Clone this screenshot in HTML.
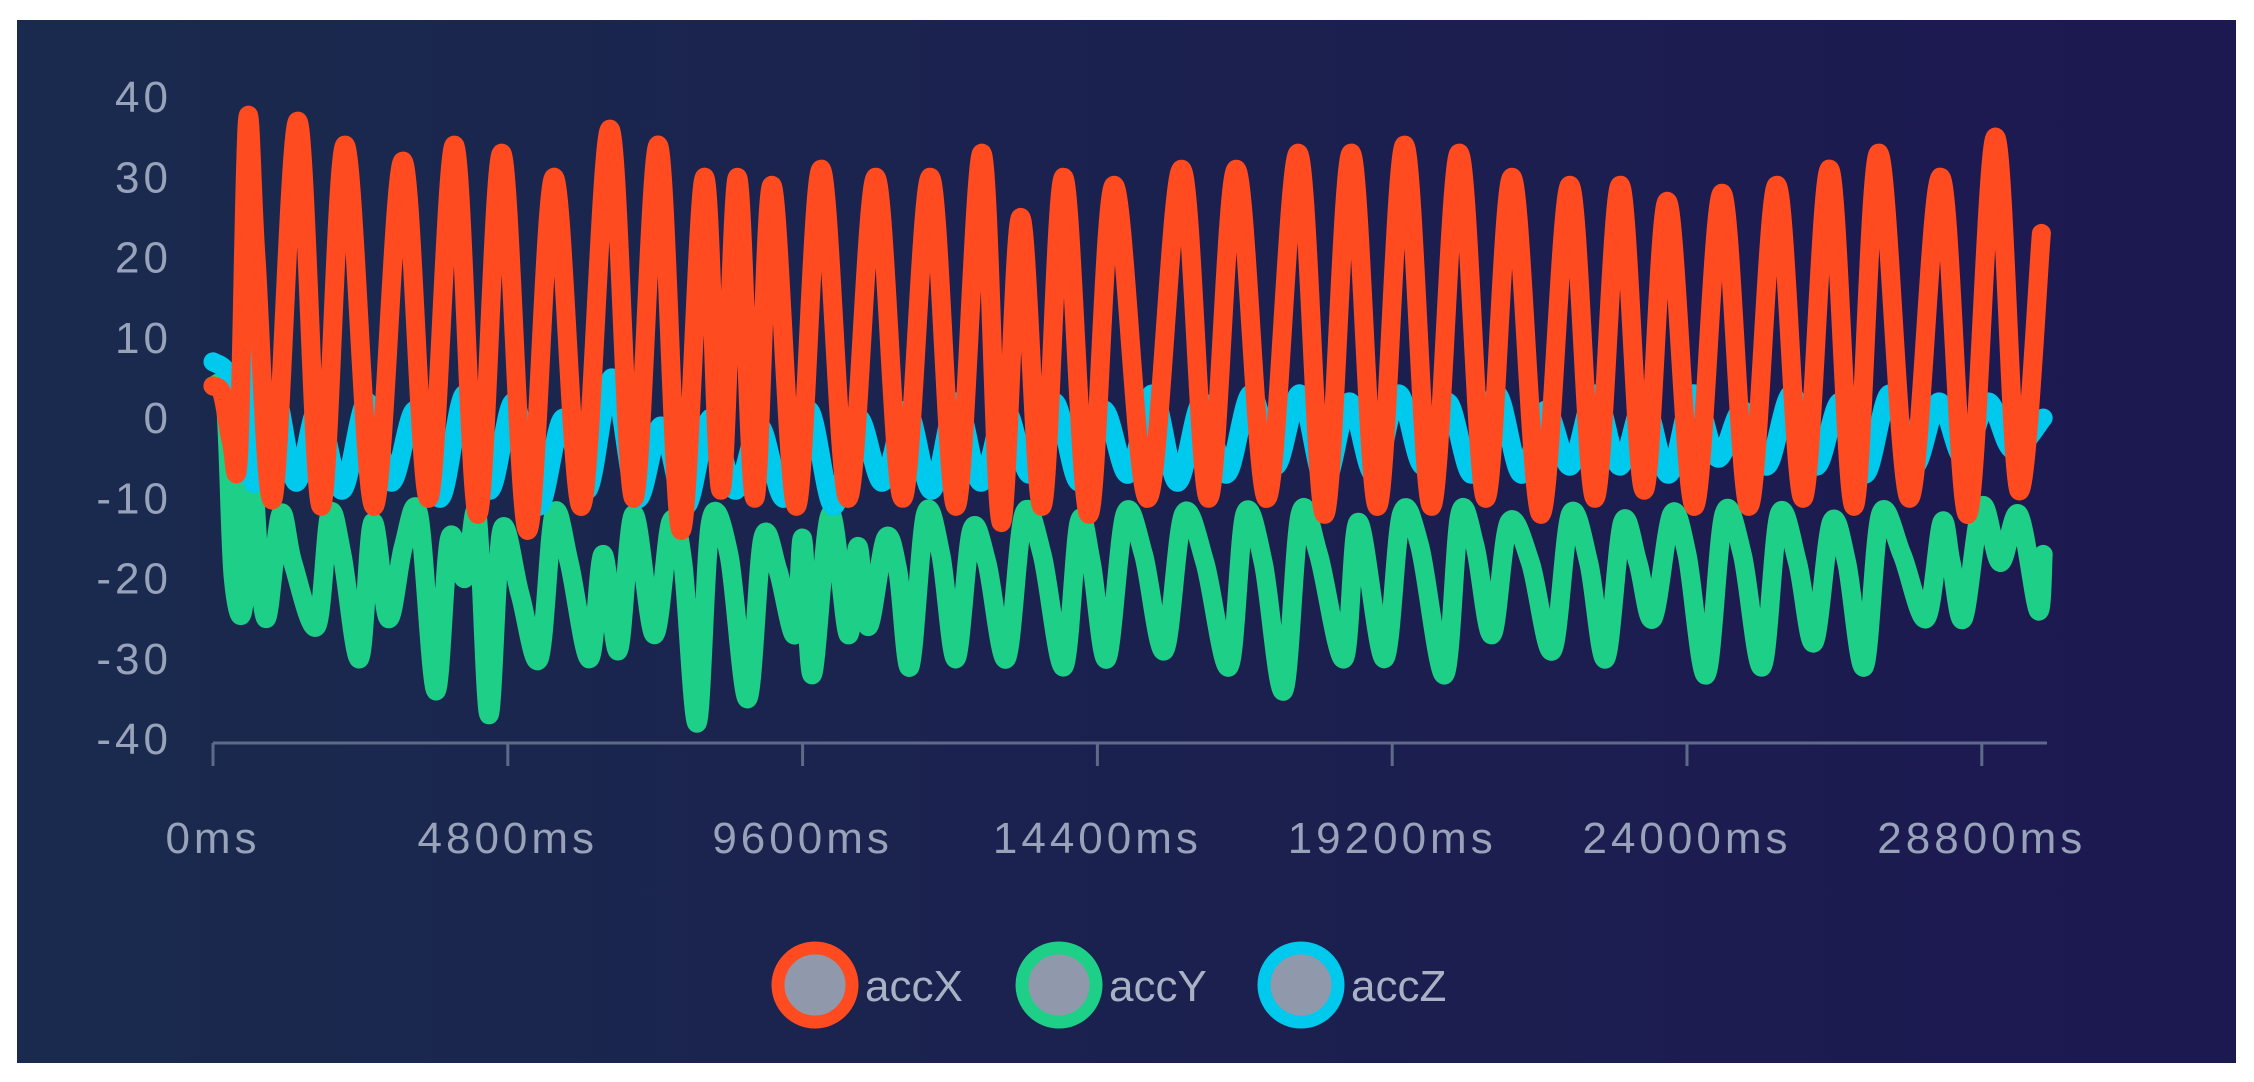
<!DOCTYPE html>
<html><head><meta charset="utf-8"><style>
html,body{margin:0;padding:0;background:#fff;}
svg{display:block;}
text{font-family:"Liberation Sans",sans-serif;}
</style></head><body>
<svg id="chart" width="2254" height="1082" viewBox="0 0 2254 1082" xmlns="http://www.w3.org/2000/svg">
<defs><linearGradient id="bg" x1="0" y1="0" x2="1" y2="0"><stop offset="0" stop-color="#1a2a4e"/><stop offset="1" stop-color="#1c1850"/></linearGradient></defs>
<rect x="17" y="20" width="2219" height="1043" fill="url(#bg)"/>
<g id="yaxis"></g>
<g id="xaxis"></g>
<g id="series"></g>
<g id="legend"></g>
</svg>
<script>
const yTicks = [40,30,20,10,0,-10,-20,-30,-40];
const xTicks = [0,4800,9600,14400,19200,24000,28800];
const xTickLabels = ["0ms","4800ms","9600ms","14400ms","19200ms","24000ms","28800ms"];
const seriesNames = ["accX","accY","accZ"];
const accX = [[0,4],[150,3],[300,-3],[420,-4],[560,37],[700,20],[980,-10],[1380,37],[1760,-11],[2150,34],[2620,-11],[3090,32],[3510,-10],[3930,34],[4310,-12],[4700,33],[5120,-14],[5550,30],[6000,-11],[6460,36],[6850,-10],[7250,34],[7620,-14],[8000,30],[8270,-9],[8540,30],[8820,-10],[9100,29],[9500,-11],[9900,31],[10340,-10],[10790,30],[11230,-10],[11680,30],[12100,-11],[12520,33],[12830,-13],[13150,25],[13500,-11],[13850,30],[14260,-12],[14670,29],[15220,-10],[15770,31],[16210,-10],[16660,31],[17160,-10],[17670,33],[18100,-12],[18530,33],[18960,-11],[19400,34],[19840,-11],[20290,33],[20720,-10],[21150,30],[21620,-12],[22090,29],[22500,-10],[22910,29],[23300,-9],[23680,27],[24120,-11],[24570,28],[25010,-11],[25460,29],[25890,-10],[26320,31],[26720,-11],[27120,33],[27620,-10],[28130,30],[28570,-12],[29020,35],[29400,-9],[29770,23]];
const accY = [[0,4],[200,2],[330,-20],[515,-22],[600,10],[700,-12],[866,-25],[1100,-12],[1300,-18],[1685,-26],[1900,-12],[2100,-17],[2387,-30],[2600,-13],[2855,-25],[3100,-16],[3350,-12],[3627,-34],[3850,-15],[4100,-20],[4300,-12],[4493,-37],[4700,-14],[5000,-22],[5312,-30],[5550,-12],[5800,-18],[6131,-30],[6350,-17],[6599,-29],[6850,-12],[7184,-27],[7450,-13],[7650,-18],[7886,-38],[8100,-13],[8400,-17],[8705,-35],[8950,-15],[9200,-19],[9477,-27],[9600,-15],[9758,-32],[10050,-12],[10343,-27],[10500,-16],[10670,-26],[10950,-15],[11150,-19],[11349,-31],[11600,-12],[11850,-17],[12098,-30],[12350,-14],[12600,-18],[12917,-30],[13200,-12],[13500,-17],[13853,-31],[14100,-13],[14300,-18],[14555,-30],[14850,-12],[15150,-17],[15491,-29],[15800,-12],[16150,-18],[16544,-31],[16800,-12],[17100,-18],[17433,-34],[17700,-12],[18000,-17],[18416,-30],[18650,-13],[19071,-30],[19350,-12],[19650,-16],[20054,-32],[20300,-12],[20550,-16],[20826,-27],[21100,-13],[21450,-18],[21809,-29],[22100,-12],[22400,-18],[22675,-30],[22950,-13],[23200,-18],[23447,-25],[23750,-12],[24000,-17],[24313,-32],[24600,-12],[24900,-17],[25225,-31],[25500,-12],[25800,-18],[26068,-28],[26350,-13],[26600,-18],[26887,-31],[27150,-12],[27500,-17],[27893,-25],[28150,-13],[28300,-18],[28501,-25],[28800,-11],[29100,-18],[29400,-12],[29718,-24],[29800,-17]];
const accZ = [[0,7],[200,6],[330,3],[420,-3],[530,14],[650,-8],[1000,3],[1350,-8],[1700,1],[2100,-9],[2500,2],[2900,-8],[3300,1],[3700,-10],[4100,3],[4500,-9],[4900,2],[5300,-11],[5700,0],[6100,-9],[6500,5],[6900,-10],[7300,-1],[7700,-11],[8100,0],[8500,-9],[8900,-1],[9300,-10],[9700,1],[10100,-11],[10500,0],[10900,-8],[11300,1],[11700,-9],[12100,2],[12500,-8],[12900,1],[13300,-7],[13700,2],[14100,-8],[14500,1],[14900,-7],[15300,3],[15700,-8],[16100,2],[16500,-7],[16900,3],[17300,-6],[17700,3],[18100,-8],[18500,2],[18900,-7],[19300,3],[19700,-6],[20100,2],[20500,-7],[20900,3],[21300,-7],[21700,1],[22100,-6],[22500,3],[22900,-6],[23300,2],[23700,-7],[24100,3],[24500,-5],[24900,1],[25300,-6],[25700,3],[26100,-6],[26500,2],[26900,-7],[27300,3],[27700,-6],[28100,2],[28500,-5],[28900,2],[29300,-4],[29800,0]];

const NS="http://www.w3.org/2000/svg";
const X0=213, PX_PER_MS=294.8/4800, Y0=418, PX_PER_UNIT=8.025;
function xs(t){return X0+t*PX_PER_MS;}
function ys(v){return Y0-v*PX_PER_UNIT;}
function mk(tag,attrs,parent){const e=document.createElementNS(NS,tag);for(const k in attrs)e.setAttribute(k,attrs[k]);parent.appendChild(e);return e;}

const yg=document.getElementById('yaxis');
yTicks.forEach(v=>{
  const t=mk('text',{x:172,y:ys(v)+15,'text-anchor':'end','font-size':44,'letter-spacing':4,fill:'#98a2b8'},yg);
  
  
  t.textContent=String(v);
});
const xg=document.getElementById('xaxis');
const axisLine=mk('line',{x1:213,y1:743,x2:2047,y2:743,stroke:'#5f6a88','stroke-width':3},xg);


xTicks.forEach((t,i)=>{
  const tk=mk('line',{x1:xs(t),y1:743,x2:xs(t),y2:766,stroke:'#5f6a88','stroke-width':3},xg);
  
  
  const lb=mk('text',{x:xs(t),y:853,'text-anchor':'middle','font-size':44,'letter-spacing':4,fill:'#98a2b8'},xg);
  
  
  lb.textContent=xTickLabels[i];
});

function pathFor(pts){
  const p=pts.map(d=>[xs(d[0]),ys(d[1])]);
  let s='M'+p[0][0].toFixed(1)+','+p[0][1].toFixed(1);
  for(let i=0;i<p.length-1;i++){
    const p0=p[Math.max(0,i-1)],p1=p[i],p2=p[i+1],p3=p[Math.min(p.length-1,i+2)];
    const c1x=p1[0]+(p2[0]-p0[0])/6,c1y=p1[1]+(p2[1]-p0[1])/6;
    const c2x=p2[0]-(p3[0]-p1[0])/6,c2y=p2[1]-(p3[1]-p1[1])/6;
    s+='C'+c1x.toFixed(1)+','+c1y.toFixed(1)+' '+c2x.toFixed(1)+','+c2y.toFixed(1)+' '+p2[0].toFixed(1)+','+p2[1].toFixed(1);
  }
  return s;
}
const sg=document.getElementById('series');
const gLine=mk('path',{d:pathFor(accY),fill:'none',stroke:'#1ecf87','stroke-width':19,'stroke-linejoin':'round','stroke-linecap':'round'},sg);


const cLine=mk('path',{d:pathFor(accZ),fill:'none',stroke:'#00c9ee','stroke-width':19,'stroke-linejoin':'round','stroke-linecap':'round'},sg);


const oLine=mk('path',{d:pathFor(accX),fill:'none',stroke:'#ff4b1f','stroke-width':19,'stroke-linejoin':'round','stroke-linecap':'round'},sg);



const lg=document.getElementById('legend');
const legendColors=['#ff4b1f','#1ecf87','#00c9ee'];
const legendCx=[815,1059,1301];
seriesNames.forEach((n,i)=>{
  const g=mk('g',{},lg);
  
  
  const c=mk('circle',{cx:legendCx[i],cy:985,r:37,fill:'#8f99ab',stroke:legendColors[i],'stroke-width':13},g);
  
  
  const t=mk('text',{x:legendCx[i]+50,y:1001,'font-size':44,fill:'#a9b2c4'},g);
  
  
  t.textContent=n;
});
</script>
</body></html>
